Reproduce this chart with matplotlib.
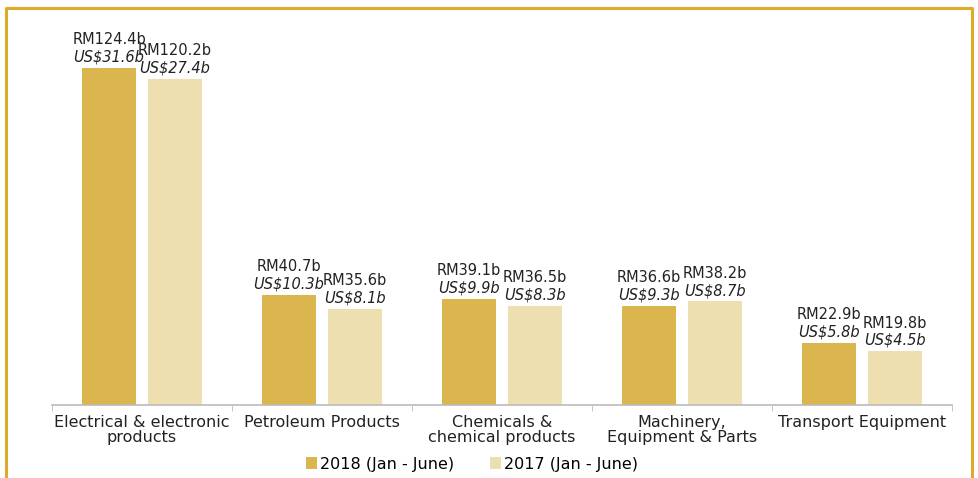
import matplotlib.pyplot as plt
import numpy as np

categories = ['Electrical & electronic\nproducts', 'Petroleum Products',
              'Chemicals &\nchemical products', 'Machinery,\nEquipment & Parts',
              'Transport Equipment']
rm_2018 = [124.4, 40.7, 39.1, 36.6, 22.9]
rm_2017 = [120.2, 35.6, 36.5, 38.2, 19.8]
usd_2018 = [31.6, 10.3, 9.9, 9.3, 5.8]
usd_2017 = [27.4, 8.1, 8.3, 8.7, 4.5]

c2018 = '#DBB54E'
c2017 = '#EEDFB1'
gold = '#DDAA2A'

fig = plt.figure(figsize=(9.79, 4.78), dpi=100)
ax = fig.add_axes([52 / 979, 73 / 478, 900 / 979, 374 / 478])

x = np.arange(len(categories))
w = 0.3
off = 0.183
b1 = ax.bar(x - off, rm_2018, w, color=c2018, label='2018 (Jan - June)')
b2 = ax.bar(x + off, rm_2017, w, color=c2017, label='2017 (Jan - June)')

# two-line labels: RM on top, US$ in italics below
for bars, rm, usd in [(b1, rm_2018, usd_2018), (b2, rm_2017, usd_2017)]:
    for bar, r, u in zip(bars, rm, usd):
        cx = bar.get_x() + bar.get_width() / 2
        top = bar.get_height()
        ax.annotate(f'US${u}b', (cx, top), xytext=(0, 2.5), textcoords='offset points',
                    ha='center', va='bottom', fontsize=10.5, style='italic', color='#222222')
        ax.annotate(f'RM{r}b', (cx, top), xytext=(0, 15), textcoords='offset points',
                    ha='center', va='bottom', fontsize=10.5, color='#222222')

ax.set_xlim(-0.5, len(categories) - 0.5)
ax.set_ylim(0, 138)
ax.set_xticks(x)
ax.set_xticklabels(categories, fontsize=11.5, color='#222222', linespacing=1.0)
ax.set_xticks(np.arange(len(categories) + 1) - 0.5, minor=True)
ax.tick_params(axis='x', which='major', length=0, pad=7)
ax.tick_params(axis='x', which='minor', length=4, color='#BBBBBB')
ax.set_yticks([])
for s in ['top', 'left', 'right']:
    ax.spines[s].set_visible(False)
ax.spines['bottom'].set_color('#BBBBBB')
ax.spines['bottom'].set_linewidth(1.2)

fig.legend(handles=[b1, b2], loc='center', bbox_to_anchor=(472 / 979, 1 - 464 / 478),
           ncol=2, frameon=False, fontsize=11.5, handlelength=0.7, handleheight=0.7,
           handletextpad=0.2, columnspacing=2.2)

# gold frame (open at the bottom)
fig.add_artist(plt.Line2D([6 / 979, 6 / 979, 972 / 979, 972 / 979],
                          [0, 1 - 8 / 478, 1 - 8 / 478, 0],
                          transform=fig.transFigure, color=gold, linewidth=2.2))

fig.savefig('out.png', dpi=100)
